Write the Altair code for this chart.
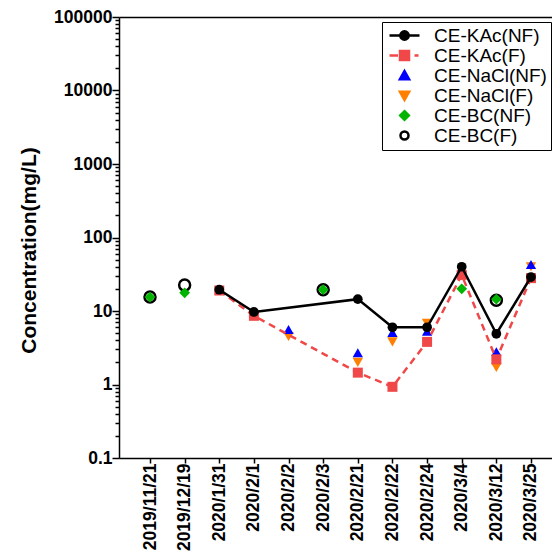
import altair as alt
import pandas as pd

dates = ["2019/11/21", "2019/12/19", "2020/1/31", "2020/2/1", "2020/2/2", "2020/2/3",
         "2020/2/21", "2020/2/22", "2020/2/24", "2020/3/4", "2020/3/12", "2020/3/25"]

series_names = ["CE-KAc(NF)", "CE-KAc(F)", "CE-NaCl(NF)", "CE-NaCl(F)", "CE-BC(NF)", "CE-BC(F)"]

kac_nf = [None, None, 19.5, 9.7, None, None, 14.5, 6.0, 6.0, 40.0, 4.9, 29.0]
kac_f = [None, None, 19.0, 8.6, None, None, 1.45, 0.93, 3.8, 31.0, 2.2, 28.0]
nacl_nf = [None, None, None, None, 5.6, None, 2.7, 5.1, 5.3, 34.0, 2.8, 43.0]
nacl_f = [None, None, None, None, 4.5, None, 2.0, 3.8, 6.8, 30.0, 1.7, 40.0]
bc_nf = [15.5, 17.7, None, None, None, 19.5, None, None, None, 20.0, 14.5, None]
bc_f = [15.5, 22.5, None, None, None, 19.5, None, None, None, None, 14.0, None]

series_values = [kac_nf, kac_f, nacl_nf, nacl_f, bc_nf, bc_f]

fills = ["#000000", "#f04848", "#0000ff", "#ff8000", "#00b400", "transparent"]
point_strokes = ["transparent", "transparent", "transparent", "transparent", "transparent", "#000000"]
legend_strokes = ["#000000", "#f04848", "#0000ff", "#ff8000", "#00b400", "#000000"]
shapes = ["circle", "square", "triangle-up", "triangle-down", "diamond", "circle"]
sizes = [95, 121, 100, 100, 80, 85]

# legend symbol glyphs, drawn in pixels then scaled to Vega's unit symbol box
SYM_SIZE = 256
R = (SYM_SIZE ** 0.5) / 2
DX = 9


def P(x, y):
    return f"{(x + DX) / R:.3f},{y / R:.3f}"


def circle_path(r):
    return (f"M{P(-r, 0)}A{r / R:.3f},{r / R:.3f},0,1,0,{P(r, 0)}"
            f"A{r / R:.3f},{r / R:.3f},0,1,0,{P(-r, 0)}Z")


legend_paths = [
    f"M{P(-15, 0)}L{P(15, 0)}" + circle_path(4.2),
    f"M{P(-15, 0)}L{P(-6.5, 0)}M{P(10, 0)}L{P(14, 0)}"
    f"M{P(-4.5, -4.5)}L{P(4.5, -4.5)}L{P(4.5, 4.5)}L{P(-4.5, 4.5)}Z",
    f"M{P(0, -4.5)}L{P(4.6, 3.8)}L{P(-4.6, 3.8)}Z",
    f"M{P(-4.6, -3.8)}L{P(4.6, -3.8)}L{P(0, 4.5)}Z",
    f"M{P(0, -4.3)}L{P(4.3, 0)}L{P(0, 4.3)}L{P(-4.3, 0)}Z",
    circle_path(4.0),
]

rows = []
for name, vals in zip(series_names, series_values):
    for d, v in zip(dates, vals):
        if v is not None:
            rows.append({"date": d, "series": name, "value": v})
df = pd.DataFrame(rows)

FONT = "Liberation Sans"

major_test = "abs(log(datum.value)/LN10 - round(log(datum.value)/LN10)) < 0.001"
y_ticks = []
for e in range(-1, 5):
    for m in range(1, 10):
        y_ticks.append(round(m * 10 ** e, 6))
y_ticks.append(100000)

y_axis = alt.Axis(
    values=y_ticks, format="~g",
    labelExpr=f"{major_test} ? datum.label : ''",
    tickSize={"condition": {"test": major_test, "value": 7}, "value": 4},
    tickColor="black", tickWidth=1.5, domainColor="black", domainWidth=1.5,
    labelFont=FONT, labelFontSize=17.5, labelFontWeight="bold", labelColor="black",
    labelPadding=0, labelOverlap=False, grid=False,
    title="Concentration(mg/L)", titleFont=FONT, titleFontSize=21,
    titleFontWeight="bold", titleColor="black", titlePadding=14, titleY=233,
)
y_scale = alt.Scale(type="log", domain=[0.1, 100000])
x_scale = alt.Scale(type="point", domain=dates, padding=0.751, align=0.596)

x_axis_main = alt.Axis(
    labelAngle=270, labelAlign="right", labelBaseline="middle",
    labelFont=FONT, labelFontSize=17.5, labelFontWeight="bold", labelColor="black",
    tickSize=5, tickWidth=1.5, tickColor="black", domainColor="black", domainWidth=1.5,
    labelPadding=0, title=None, labelOverlap=False, grid=False,
)
x_axis_top = alt.Axis(orient="top", labels=False, ticks=False, title=None,
                      domainColor="black", domainWidth=1.5, grid=False)


def y_enc():
    return alt.Y("value:Q", scale=y_scale, axis=y_axis)


def x_enc(axis=None):
    return alt.X("date:N", sort=dates, scale=x_scale, axis=axis)


def point_layer(names):
    sub = pd.concat([df[df.series == n] for n in names])
    return alt.Chart(sub).mark_point(filled=True, opacity=1, strokeWidth=2.5).encode(
        x=x_enc(), y=y_enc(),
        shape=alt.Shape("series:N", scale=alt.Scale(domain=series_names, range=shapes), legend=None),
        fill=alt.Fill("series:N", scale=alt.Scale(domain=series_names, range=fills), legend=None),
        stroke=alt.Stroke("series:N", scale=alt.Scale(domain=series_names, range=point_strokes), legend=None),
        size=alt.Size("series:N", scale=alt.Scale(domain=series_names, range=sizes), legend=None),
    )


red_line = alt.Chart(df[df.series == "CE-KAc(F)"]).mark_line(
    color="#f04848", strokeWidth=2.5, strokeDash=[7, 5]
).encode(x=x_enc(x_axis_main), y=y_enc())

black_line = alt.Chart(df[df.series == "CE-KAc(NF)"]).mark_line(
    color="black", strokeWidth=2.5
).encode(x=x_enc(), y=y_enc())

legend = alt.Legend(
    title=None, orient="none", legendX=263, legendY=5,
    labelFont=FONT, labelFontSize=19, labelColor="black", labelOffset=29, labelLimit=0,
    symbolSize=SYM_SIZE, symbolStrokeWidth=2.5, rowPadding=0, padding=4,
    strokeColor="black", fillColor="white",
)

legend_layer = alt.Chart(df).transform_filter("false").mark_point(
    filled=True, opacity=1, strokeWidth=2.5
).encode(
    x=x_enc(x_axis_top), y=y_enc(),
    shape=alt.Shape("series:N", scale=alt.Scale(domain=series_names, range=legend_paths), legend=legend),
    fill=alt.Fill("series:N", scale=alt.Scale(domain=series_names, range=fills), legend=legend),
    stroke=alt.Stroke("series:N", scale=alt.Scale(domain=series_names, range=legend_strokes), legend=legend),
)

chart = alt.layer(
    point_layer(["CE-NaCl(F)", "CE-NaCl(NF)"]),
    red_line,
    point_layer(["CE-KAc(F)"]),
    black_line,
    point_layer(["CE-KAc(NF)", "CE-BC(F)", "CE-BC(NF)"]),
    legend_layer,
).resolve_scale(
    shape="independent", fill="independent", stroke="independent", size="independent"
).resolve_axis(x="independent").properties(
    width=433, height=441,
    autosize=alt.AutoSizeParams(type="none"),
    padding={"left": 111, "top": 9, "right": 0, "bottom": 94},
).configure_view(stroke=None).configure(background="white")

chart.save("out.html", embed_options={"renderer": "svg", "actions": False})
